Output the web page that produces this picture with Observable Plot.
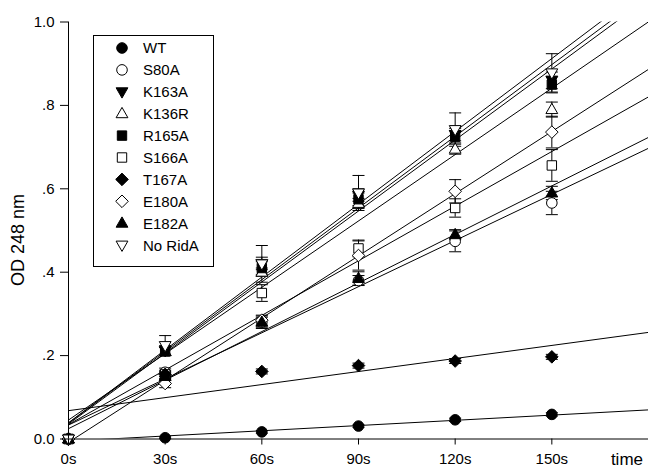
<!DOCTYPE html>
<html><head><meta charset="utf-8">
<script src="https://cdn.jsdelivr.net/npm/d3@7"></script>
<script src="https://cdn.jsdelivr.net/npm/@observablehq/plot@0.6"></script>
<style>
body{margin:0;background:#fff;}
#chart{width:648px;height:468px;}
</style></head><body><div id="chart"></div>
<script>
// ---- data ----
const times = [0, 30, 60, 90, 120, 150];
const timeLabels = ["0s", "30s", "60s", "90s", "120s", "150s"];
const yTicks = [0, 0.2, 0.4, 0.6, 0.8, 1.0];
const yTickLabels = ["0.0", ".2", ".4", ".6", ".8", "1.0"];
const seriesNames = ["WT", "S80A", "K163A", "K136R", "R165A", "S166A", "T167A", "E180A", "E182A", "No RidA"];
const xTitle = "time";
const yTitle = "OD 248 nm";

const WT     = [0, 0.003, 0.017, 0.031, 0.046, 0.059];
const S80A   = [0, 0.160, 0.280, 0.380, 0.474, 0.566];
const K163A  = [0, 0.212, 0.421, 0.585, 0.730, 0.860];
const K136R  = [0, 0.210, 0.400, 0.565, 0.695, 0.790];
const R165A  = [0, 0.210, 0.410, 0.575, 0.725, 0.850];
const S166A  = [0, 0.155, 0.350, 0.457, 0.554, 0.656];
const T167A  = [0, 0.155, 0.162, 0.176, 0.187, 0.197];
const E180A  = [0, 0.133, 0.285, 0.440, 0.594, 0.736];
const E182A  = [0, 0.150, 0.280, 0.385, 0.490, 0.590];
const NoRidA = [0, 0.224, 0.420, 0.590, 0.742, 0.878];

const WT_err     = [0, 0.002, 0.003, 0.003, 0.004, 0.004];
const S80A_err   = [0, 0.010, 0.012, 0.012, 0.025, 0.028];
const K163A_err  = [0, 0.012, 0.015, 0.015, 0.015, 0.020];
const K136R_err  = [0, 0.010, 0.010, 0.012, 0.012, 0.018];
const R165A_err  = [0, 0.010, 0.015, 0.015, 0.015, 0.020];
const S166A_err  = [0, 0.010, 0.020, 0.020, 0.022, 0.038];
const T167A_err  = [0, 0.006, 0.006, 0.006, 0.006, 0.006];
const E180A_err  = [0, 0.010, 0.012, 0.035, 0.028, 0.038];
const E182A_err  = [0, 0.010, 0.015, 0.016, 0.012, 0.016];
const NoRidA_err = [0, 0.024, 0.044, 0.042, 0.040, 0.046];

const seriesValues = [WT, S80A, K163A, K136R, R165A, S166A, T167A, E180A, E182A, NoRidA];
const seriesErrors = [WT_err, S80A_err, K163A_err, K136R_err, R165A_err, S166A_err, T167A_err, E180A_err, E182A_err, NoRidA_err];
const xMax = 180;

// ---- styles ----
const shapes = {
  circle: {draw(c) { c.moveTo(5.3, 0); c.arc(0, 0, 5.3, 0, 2 * Math.PI); c.closePath(); }},
  square: {draw(c) { c.rect(-4.7, -4.7, 9.4, 9.4); }},
  diamond: {draw(c) { c.moveTo(0, -6.3); c.lineTo(6.3, 0); c.lineTo(0, 6.3); c.lineTo(-6.3, 0); c.closePath(); }},
  triangleUp: {draw(c) { c.moveTo(0, -6.3); c.lineTo(5.9, 4); c.lineTo(-5.9, 4); c.closePath(); }},
  triangleDown: {draw(c) { c.moveTo(0, 6.3); c.lineTo(5.9, -4); c.lineTo(-5.9, -4); c.closePath(); }},
  cap: {draw(c) { c.moveTo(-6, 0); c.lineTo(6, 0); }}
};
const seriesStyle = {
  "WT": ["circle", true], "S80A": ["circle", false], "K163A": ["triangleDown", true],
  "K136R": ["triangleUp", false], "R165A": ["square", true], "S166A": ["square", false],
  "T167A": ["diamond", true], "E180A": ["diamond", false], "E182A": ["triangleUp", true],
  "No RidA": ["triangleDown", false]
};
const FONT = "'Liberation Sans', Arial, sans-serif";

// ---- tables ----
const points = [];
seriesNames.forEach((s, i) => times.forEach((t, j) => {
  points.push({s, t, v: seriesValues[i][j], lo: seriesValues[i][j] - seriesErrors[i][j], hi: seriesValues[i][j] + seriesErrors[i][j], e: seriesErrors[i][j]});
}));
const fits = [];
seriesNames.forEach((s, i) => {
  const ys = seriesValues[i];
  const mx = d3.mean(times), my = d3.mean(ys);
  const b = d3.sum(times, (t, j) => (t - mx) * (ys[j] - my)) / d3.sum(times, t => (t - mx) ** 2);
  const a = my - b * mx;
  fits.push({s, t: 0, v: a}, {s, t: xMax, v: a + b * xMax});
});
const errPts = points.filter(d => d.e > 0);

// ---- legend and titles (custom marks) ----
function legend() {
  const g = d3.create("svg:g");
  g.append("rect").attr("x", 93.5).attr("y", 35.5).attr("width", 120).attr("height", 231)
    .attr("fill", "white").attr("stroke", "black").attr("stroke-width", 1);
  seriesNames.forEach((name, i) => {
    const y = 48 + i * 21.9;
    const [shape, filled] = seriesStyle[name];
    g.append("path").attr("d", d3.symbol(shapes[shape])())
      .attr("transform", `translate(122,${y})`)
      .attr("fill", filled ? "black" : "white").attr("stroke", "black").attr("stroke-width", 1);
    g.append("text").attr("x", 143).attr("y", y).attr("dy", "0.36em")
      .attr("text-anchor", "start").attr("font-family", FONT)
      .attr("font-size", 15).attr("fill", "black").text(name);
  });
  return g.node();
}
function titles(index, scales, values, dims) {
  const g = d3.create("svg:g");
  g.append("text").attr("transform", "translate(24,240) rotate(-90)")
    .attr("text-anchor", "middle").attr("font-family", FONT).attr("font-size", 18)
    .attr("fill", "black").text(yTitle);
  g.append("text").attr("x", 643).attr("y", 465)
    .attr("text-anchor", "end").attr("font-family", FONT).attr("font-size", 17)
    .attr("fill", "black").text(xTitle);
  return g.node();
}

const marks = [
  Plot.line(fits, {x: "t", y: "v", z: "s", stroke: "black", strokeWidth: 1, clip: true}),
  Plot.ruleX(errPts, {x: "t", y1: "lo", y2: "hi", stroke: "black", strokeWidth: 1}),
  Plot.dot(errPts, {x: "t", y: "lo", symbol: shapes.cap, stroke: "black", fill: "none", strokeWidth: 1}),
  Plot.dot(errPts, {x: "t", y: "hi", symbol: shapes.cap, stroke: "black", fill: "none", strokeWidth: 1})
];
seriesNames.forEach(name => {
  const [shape, filled] = seriesStyle[name];
  marks.push(Plot.dot(points.filter(d => d.s === name), {
    x: "t", y: "v", symbol: shapes[shape], fill: filled ? "black" : "white", stroke: "black", strokeWidth: 1
  }));
});
marks.push(
  Plot.ruleX([0], {stroke: "black", strokeWidth: 1}),
  Plot.ruleY([0], {stroke: "black", strokeWidth: 1}),
  Plot.axisX({ticks: times, tickFormat: d => timeLabels[times.indexOf(d)], tickSize: 6, tickPadding: 8, label: null, fontSize: 15}),
  Plot.axisY({ticks: yTicks, tickFormat: d => yTickLabels[yTicks.indexOf(d)], tickSize: 8, tickPadding: 6, label: null, fontSize: 15}),
  titles,
  legend
);

const chart = Plot.plot({
  width: 648, height: 468,
  marginLeft: 68, marginRight: 0, marginTop: 21.5, marginBottom: 29.5,
  x: {domain: [0, xMax]},
  y: {domain: [0, 1]},
  style: {fontFamily: FONT, fontSize: "15px", background: "white", color: "black", overflow: "visible"},
  marks
});
document.getElementById("chart").appendChild(chart);
</script>
</body></html>
